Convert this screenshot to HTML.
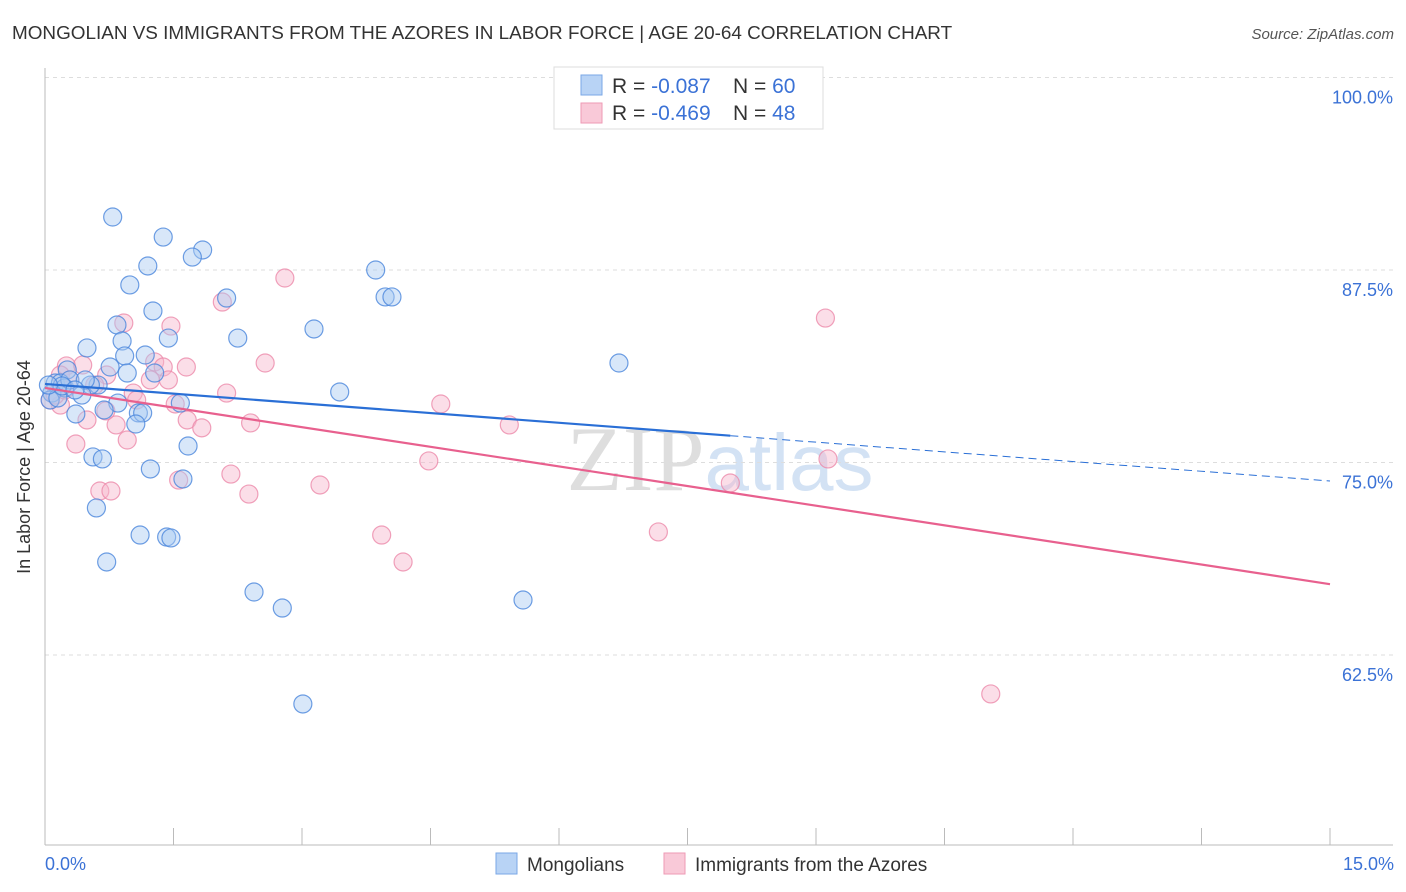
<!DOCTYPE html>
<html><head><meta charset="utf-8"><style>
body{margin:0;background:#fff;font-family:"Liberation Sans",sans-serif;}
svg{display:block}
</style></head><body>
<svg id="chart" width="1406" height="892">
<text x="12" y="39" font-size="18.9" fill="#333">MONGOLIAN VS IMMIGRANTS FROM THE AZORES IN LABOR FORCE | AGE 20-64 CORRELATION CHART</text>
<text x="1394" y="39" font-size="15" fill="#555" font-style="italic" text-anchor="end">Source: ZipAtlas.com</text>
<text x="720" y="490" font-size="92" fill="#e2e2e2" text-anchor="middle" font-family="Liberation Serif,serif"><tspan fill="#dedede">ZIP</tspan><tspan fill="#d3e2f4" font-family="Liberation Sans,sans-serif" font-size="80">atlas</tspan></text>
<g id="grid"></g>
<line x1="45" y1="68" x2="45" y2="845" stroke="#bbb"/>
<line x1="45" y1="845" x2="1393" y2="845" stroke="#bbb"/>
<g id="ticks"></g>
<text x="20" y="457" font-size="18" fill="#333" transform="rotate(-90 30 457)" text-anchor="middle">In Labor Force | Age 20-64</text>
<text x="45" y="870" font-size="18" fill="#3b72d6">0.0%</text>
<text x="1394" y="870" font-size="18" fill="#3b72d6" text-anchor="end">15.0%</text>
<g id="pts"></g>
<g id="lines"></g>
<g>
<rect x="554" y="67" width="269" height="62" fill="#fff" stroke="#ddd"/>
<rect x="581" y="75" width="21" height="20" fill="#b8d3f5" stroke="#7aa7e6"/>
<rect x="581" y="103" width="21" height="20" fill="#f9c9d8" stroke="#ee9ab5"/>
<text x="612" y="93" font-size="21" fill="#333">R = <tspan fill="#3b72d6">-0.087</tspan><tspan x="733">N = </tspan><tspan fill="#3b72d6">60</tspan></text>
<text x="612" y="120" font-size="21" fill="#333">R = <tspan fill="#3b72d6">-0.469</tspan><tspan x="733">N = </tspan><tspan fill="#3b72d6">48</tspan></text>
</g>
<g>
<rect x="496" y="853" width="21" height="21" fill="#b8d3f5" stroke="#7aa7e6"/>
<text x="527" y="871" font-size="19" fill="#333">Mongolians</text>
<rect x="664" y="853" width="21" height="21" fill="#f9c9d8" stroke="#ee9ab5"/>
<text x="695" y="871" font-size="19" fill="#333">Immigrants from the Azores</text>
</g>
</svg>
<script>
const yTicks=[100,87.5,75,62.5];
const yTickLabels=["100.0%","87.5%","75.0%","62.5%"];
const xTicks=[1.5,3,4.5,6,7.5,9,10.5,12,13.5,15];
const blueX=[0.79,1.38,1.84,1.72,1.20,3.86,0.99,2.12,3.97,4.05,1.26,3.14,0.84,2.25,1.44,0.90,0.49,0.93,1.17,6.70,0.76,1.28,0.96,0.26,0.62,0.53,0.12,0.18,0.23,0.08,0.43,3.44,0.85,1.58,0.69,0.36,1.09,1.14,1.06,1.67,0.56,0.67,1.23,1.61,0.60,1.11,1.42,1.47,0.72,2.44,2.77,5.58,3.01,0.06,0.15,0.29,0.20,0.04,0.47,0.35];
const blueY=[90.94,89.64,88.8,88.34,87.76,87.5,86.53,85.68,85.75,85.75,84.84,83.67,83.93,83.08,83.08,82.89,82.44,81.92,81.98,81.46,81.2,80.81,80.81,81.01,80.03,80.03,80.16,80.16,79.84,79.51,79.38,79.58,78.86,78.86,78.41,78.15,78.22,78.22,77.5,76.07,75.36,75.23,74.58,73.93,72.05,70.29,70.16,70.1,68.54,66.59,65.55,66.07,59.32,79.06,79.19,80.36,79.97,80.03,80.36,79.71];
const pinkX=[2.80,9.11,2.07,0.92,1.47,2.57,1.65,0.25,0.44,1.28,1.38,1.44,0.72,0.18,1.03,2.12,1.07,1.52,4.62,0.18,0.06,0.71,0.49,0.83,1.66,2.40,1.83,5.42,0.96,0.36,4.48,9.14,2.17,1.56,3.21,8.0,0.64,0.77,2.38,3.93,7.16,4.18,11.04,0.12,0.29,0.58,1.23,0.23];
const pinkY=[86.98,84.38,85.42,84.06,83.86,81.46,81.2,81.27,81.33,81.53,81.2,80.36,80.68,80.68,79.51,79.51,79.06,78.8,78.8,78.73,79.06,78.35,77.76,77.44,77.76,77.57,77.25,77.44,76.46,76.2,75.1,75.23,74.25,73.86,73.54,73.67,73.15,73.15,72.95,70.29,70.49,68.54,59.97,79.38,80.36,80.03,80.36,79.71];
const blueTrend=[80.1,73.8];
const pinkTrend=[79.84,67.1];
const blueSolidEnd=8.0;
const NS="http://www.w3.org/2000/svg";
const sx=v=>45+v/15*1285;
const sy=v=>77.5+(100-v)/12.5*192.5;
function mk(tag,attrs,parent){const e=document.createElementNS(NS,tag);for(const k in attrs)e.setAttribute(k,attrs[k]);document.getElementById(parent).appendChild(e);return e;}
yTicks.forEach((t,i)=>{
  const g=mk('line',{x1:45,x2:1393,y1:sy(t),y2:sy(t),stroke:'#ddd','stroke-dasharray':'4,4'},'grid');
  
  
  const l=mk('text',{x:1393,y:sy(t)+26,'font-size':18,fill:'#3b72d6','text-anchor':'end'},'grid');
  l.textContent=yTickLabels[i];
  
  
});
xTicks.forEach(t=>{
  const e=mk('line',{x1:sx(t),x2:sx(t),y1:828,y2:845,stroke:'#bbb'},'ticks');
  
  
});
function pts(xs,ys,fill,stroke,name){xs.forEach((x,i)=>{
  const c=mk('circle',{cx:sx(x),cy:sy(ys[i]),r:9,fill:fill,'fill-opacity':0.45,stroke:stroke,'stroke-width':1.2,'stroke-opacity':0.8},'pts');
  
  
});}
pts(pinkX,pinkY,'#f7b6cb','#ec8aaa','azores-point');
pts(blueX,blueY,'#a9c9f2','#4a86dc','mongolian-point');
const bAt=x=>blueTrend[0]+(blueTrend[1]-blueTrend[0])*x/15;
const pAt=x=>pinkTrend[0]+(pinkTrend[1]-pinkTrend[0])*x/15;
let l1=mk('line',{x1:sx(0),y1:sy(pAt(0)),x2:sx(15),y2:sy(pAt(15)),stroke:'#e8608e','stroke-width':2.2},'lines');


let l2=mk('line',{x1:sx(0),y1:sy(bAt(0)),x2:sx(blueSolidEnd),y2:sy(bAt(blueSolidEnd)),stroke:'#2a6fd6','stroke-width':2.2},'lines');


let l3=mk('line',{x1:sx(blueSolidEnd),y1:sy(bAt(blueSolidEnd)),x2:sx(15),y2:sy(bAt(15)),stroke:'#2a6fd6','stroke-width':1,'stroke-dasharray':'8,5'},'lines');


</script>
</body></html>
